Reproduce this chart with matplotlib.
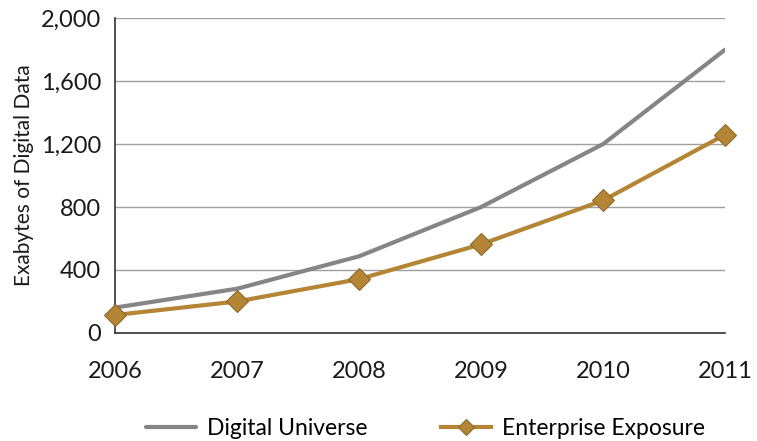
import matplotlib
matplotlib.use("Agg")
import matplotlib.pyplot as plt
from matplotlib.ticker import FuncFormatter

plt.rcParams['font.family'] = ['Lato', 'DejaVu Sans']

years = [2006, 2007, 2008, 2009, 2010, 2011]
digital_universe = [161, 281, 487, 800, 1200, 1800]
enterprise_exposure = [114, 200, 342, 563, 842, 1260]
y_ticks = [0, 400, 800, 1200, 1600, 2000]

fig = plt.figure(figsize=(7.57, 4.41), dpi=100)
ax = fig.add_axes([0.152, 0.245, 0.806, 0.714])

ax.plot(years, digital_universe, color='#858587', lw=3, label='Digital Universe',
        solid_capstyle='round', zorder=3)
ax.plot(years, enterprise_exposure, color='#B38535', lw=3, marker='D', markersize=11,
        markerfacecolor='#B38535', markeredgecolor='#8C6A2C', markeredgewidth=0.8,
        label='Enterprise Exposure', zorder=4, clip_on=False)

ax.set_xlim(2006, 2011)
ax.set_ylim(0, 2000)
ax.set_xticks(years)
ax.set_yticks(y_ticks)
ax.yaxis.set_major_formatter(FuncFormatter(lambda v, p: f"{int(v):,}"))
ax.tick_params(length=0, labelsize=17, colors='#1a1a1a')
ax.tick_params(axis='x', pad=20)
ax.tick_params(axis='y', pad=10)
ax.grid(axis='y', color='#a0a0a0', lw=1)
ax.set_axisbelow(True)
for s in ['top', 'right']:
    ax.spines[s].set_visible(False)
for s in ['left', 'bottom']:
    ax.spines[s].set_color('#333333')
    ax.spines[s].set_linewidth(1.2)
ax.set_ylabel('Exabytes of Digital Data', fontsize=15, color='#1a1a1a', labelpad=5)

fig.legend(loc='center', bbox_to_anchor=(0.562, 0.029), ncol=2, frameon=False,
           fontsize=16.5, handlelength=2.17, columnspacing=3.2, handletextpad=0.48,
           markerscale=0.75)

fig.savefig('out.png', dpi=100)
